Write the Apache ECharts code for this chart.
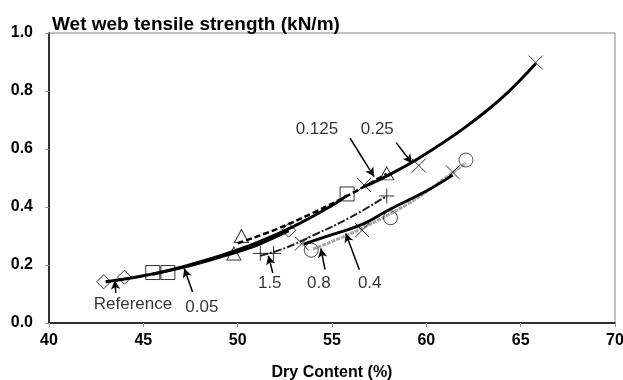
<!DOCTYPE html>
<html>
<head>
<meta charset="utf-8">
<script src="https://cdn.jsdelivr.net/npm/echarts@6/dist/echarts.min.js"></script>
<style>html,body{margin:0;padding:0;background:#fff}#c{width:623px;height:380px}</style>
</head>
<body>
<div id="c"></div>
<script>
// ---- data ----
const xTicks = [40, 45, 50, 55, 60, 65, 70];
const yTicks = [0.0, 0.2, 0.4, 0.6, 0.8, 1.0];

// measured points (dry content %, wet web tensile strength kN/m)
const refX  = [42.9, 44.0, 52.7];  const refY  = [0.142, 0.158, 0.320];
const p05X  = [45.5, 46.3, 55.8];  const p05Y  = [0.174, 0.174, 0.445];
const p125X = [49.8, 50.2, 57.9];  const p125Y = [0.240, 0.300, 0.516];
const p25X  = [56.7, 59.6, 65.8];  const p25Y  = [0.476, 0.543, 0.898];
const p15X  = [51.2, 51.9, 57.9];  const p15Y  = [0.240, 0.240, 0.438];
const p08X  = [53.9, 58.1, 62.1];  const p08Y  = [0.251, 0.363, 0.562];
const p04X  = [53.4, 56.6, 61.4];  const p04Y  = [0.274, 0.320, 0.520];

// trend curves
const refFitX  = [43.0, 45.0, 47.0, 49.0, 51.0, 52.7];
const refFitY  = [0.142, 0.163, 0.190, 0.226, 0.268, 0.318];
const p05FitX  = [45.5, 47.0, 49.0, 51.0, 53.0, 55.0, 55.8];
const p05FitY  = [0.168, 0.192, 0.230, 0.276, 0.334, 0.405, 0.440];
const p125FitX = [50.0, 52.0, 54.0, 56.0, 57.9];
const p125FitY = [0.275, 0.322, 0.380, 0.445, 0.515];
const p25FitX  = [56.7, 58.0, 59.6, 62.0, 64.0, 65.8];
const p25FitY  = [0.470, 0.510, 0.568, 0.672, 0.776, 0.895];
const p15FitX  = [51.2, 52.5, 54.0, 56.0, 57.9];
const p15FitY  = [0.232, 0.258, 0.302, 0.365, 0.438];
const p04FitX  = [53.5, 55.0, 56.6, 58.0, 60.0, 61.4];
const p04FitY  = [0.272, 0.305, 0.340, 0.390, 0.455, 0.510];
const p08FitX  = [54.0, 56.3, 59.0, 61.0, 62.1];
const p08FitY  = [0.255, 0.318, 0.410, 0.500, 0.552];

// annotations: text, label anchor, arrow start, arrow end (data units)
const annText  = ['Reference', '0.05', '1.5', '0.8', '0.4', '0.125', '0.25'];
const annLabel = [[44.45, 0.065], [48.1, 0.055], [51.7, 0.136], [54.3, 0.136], [57.0, 0.136], [54.2, 0.668], [57.4, 0.668]];
const annFrom  = [[43.54, 0.104], [47.61, 0.107], [51.86, 0.173], [54.63, 0.184], [56.45, 0.184], [55.96, 0.637], [58.4, 0.622]];
const annTo    = [[43.49, 0.147], [47.17, 0.188], [51.63, 0.232], [54.41, 0.257], [55.73, 0.309], [57.23, 0.505], [59.24, 0.551]];

const zip = (a, b) => a.map((v, i) => [v, b[i]]);
const FONT = 'Liberation Sans, Arial, sans-serif';
const CROSS = 'path://M0,0L10,10M10,0L0,10';
const PLUS = 'path://M5,0L5,10M0,5L10,5';

function fit(name, xs, ys, lineStyle, z) {
  return { name, type: 'line', data: zip(xs, ys), showSymbol: false, smooth: 0.4,
           lineStyle, z: z || 2, silent: true, animation: false };
}
function pts(name, xs, ys, symbol, size, color) {
  return { name, type: 'scatter', data: zip(xs, ys), symbol, symbolSize: size, z: 5,
           itemStyle: { color: 'rgba(0,0,0,0)', borderColor: color || '#000', borderWidth: 1 },
           animation: false };
}

const chart = echarts.init(document.getElementById('c'), null, { renderer: 'canvas' });
chart.setOption({
  animation: false,
  backgroundColor: '#fff',
  title: { text: 'Wet web tensile strength (kN/m)', left: 47, top: 10,
           textStyle: { fontFamily: FONT, fontSize: 19, fontWeight: 'bold', color: '#000' } },
  grid: { left: 49, right: 8, top: 33, bottom: 57, show: true, borderColor: '#888', borderWidth: 1,
          outerBoundsMode: 'none', containLabel: false },
  xAxis: {
    type: 'value', min: 40, max: 70, interval: 5,
    name: 'Dry Content (%)', nameLocation: 'middle', nameGap: 42,
    nameTextStyle: { fontFamily: FONT, fontSize: 16, fontWeight: 'bold', color: '#000' },
    axisLine: { show: true, onZero: false, lineStyle: { color: '#000', width: 1.5 } },
    axisTick: { show: true, length: 4, lineStyle: { color: '#999' } },
    axisLabel: { margin: 10, fontFamily: FONT, fontSize: 16, fontWeight: 'bold', color: '#000',
                 customValues: xTicks },
    splitLine: { show: false }
  },
  yAxis: {
    type: 'value', min: 0, max: 1, interval: 0.2,
    axisLine: { show: true, onZero: false, lineStyle: { color: '#000', width: 1.5 } },
    axisTick: { show: true, length: 4, lineStyle: { color: '#999' } },
    axisLabel: { margin: 16, fontFamily: FONT, fontSize: 16, fontWeight: 'bold', color: '#000',
                 customValues: yTicks, formatter: v => v.toFixed(1) },
    splitLine: { show: false }
  },
  series: [
    fit('0.8 fit', p08FitX, p08FitY, { color: '#a8a8a8', width: 3, type: [4, 1] }, 2),
    fit('0.4 fit', p04FitX, p04FitY, { color: '#000', width: 2.8 }, 3),
    fit('1.5 fit', p15FitX, p15FitY, { color: '#222', width: 2, type: [8, 2, 2, 2] }, 3),
    fit('Reference fit', refFitX, refFitY, { color: '#000', width: 3 }, 3),
    fit('0.05 fit', p05FitX, p05FitY, { color: '#000', width: 3 }, 3),
    fit('0.25 fit', p25FitX, p25FitY, { color: '#000', width: 3 }, 3),
    fit('0.125 fit', p125FitX, p125FitY, { color: '#000', width: 2.5, type: [6, 3] }, 4),
    pts('Reference', refX, refY, 'diamond', [14, 14]),
    pts('0.05', p05X, p05Y, 'rect', 14),
    pts('0.125', p125X, p125Y, 'triangle', [14, 13]),
    pts('0.25', p25X, p25Y, CROSS, 14),
    pts('1.5', p15X, p15Y, PLUS, 15),
    pts('0.8', p08X, p08Y, 'circle', 14, '#222'),
    pts('0.4', p04X, p04Y, CROSS, 14),
    {
      name: 'annotations', type: 'scatter', symbolSize: 0, z: 6, animation: false,
      data: annText.map((t, i) => ({ name: t, value: annLabel[i] })),
      label: { show: true, position: 'inside', formatter: p => p.name,
               fontFamily: FONT, fontSize: 17, color: '#000' },
      markLine: {
        silent: true, animation: false, symbol: ['none', 'arrow'], symbolSize: [7, 9],
        lineStyle: { color: '#000', width: 1.5, type: 'solid' },
        label: { show: false },
        data: annFrom.map((f, i) => [{ coord: f }, { coord: annTo[i] }])
      }
    }
  ]
});
</script>
</body>
</html>
